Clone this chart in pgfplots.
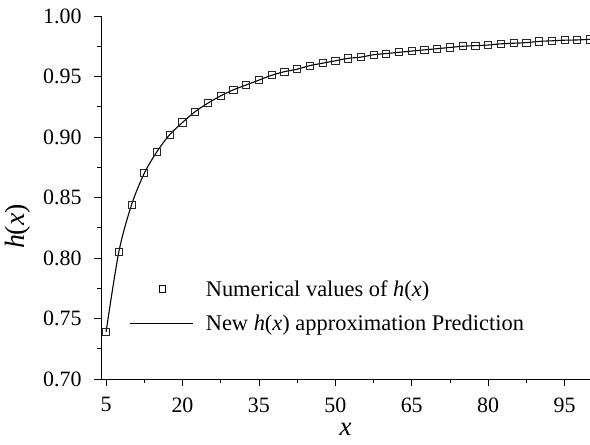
\documentclass[border=0pt]{standalone}
\usepackage{fontspec}
\setmainfont{Liberation Serif}
\usepackage{pgfplots}
\pgfplotsset{compat=1.18}
\pgfplotstableread{
x h
5 0.739
7.5 0.805
10 0.844
12.5 0.870
15 0.888
17.5 0.902
20 0.912
22.5 0.921
25 0.928
27.5 0.934
30 0.939
32.5 0.943
35 0.947
37.5 0.951
40 0.954
42.5 0.956
45 0.959
47.5 0.961
50 0.963
52.5 0.965
55 0.966
57.5 0.968
60 0.969
62.5 0.970
65 0.971
67.5 0.972
70 0.973
72.5 0.974
75 0.975
77.5 0.9755
80 0.976
82.5 0.977
85 0.9775
87.5 0.978
90 0.979
92.5 0.9795
95 0.980
97.5 0.9802
100 0.9807
}\hdata
\begin{document}
\begin{tikzpicture}
\begin{axis}[
  at={(0,0)}, anchor=south west,
  scale only axis, width=489bp, height=363bp,
  xmin=4, xmax=100, ymin=0.70, ymax=1.00,
  axis x line*=bottom, axis y line*=left,
  xtick={5,20,35,50,65,80,95},
  ytick={0.70,0.75,0.80,0.85,0.90,0.95,1.00},
  minor x tick num=1, minor y tick num=1,
  tick align=outside,
  major tick length=7bp, minor tick length=4bp,
  tick style={black, line width=0.8bp},
  axis line style={line width=0.8bp},
  /pgf/number format/assume math mode=true,
  ticklabel style={font=\fontsize{22}{26}\selectfont},
  xticklabel style={yshift=-8bp},
  yticklabel style={xshift=-9bp, /pgf/number format/fixed, /pgf/number format/fixed zerofill, /pgf/number format/precision=2},
  xlabel={\textit{x}}, ylabel={\textit{h}(\textit{x})},
  label style={font=\fontsize{28}{32}\selectfont},
  xlabel style={at={(axis description cs:0.5,-0.138)}, anchor=center, inner sep=0pt, font=\fontsize{27}{30}\selectfont},
  ylabel style={at={(axis description cs:-0.17,0.42)}, anchor=center, rotate=0},
  legend style={draw=none, fill=none, at={(axis description cs:0.059,0.278)}, anchor=north west,
    font=\fontsize{22.5}{26}\selectfont, inner sep=0pt, row sep=13bp,
    /tikz/every odd column/.append style={column sep=10bp}},
  legend cell align=left,
]
\addplot[only marks, mark=square, mark size=3.6bp, mark options={line width=0.8bp, black!85},
  legend image code/.code={\draw[black, line width=0.7bp] (28.5bp,-3.2bp) rectangle (34.9bp,3.2bp);}]
  table[x=x, y=h] {\hdata};
\addlegendentry{Numerical values of \textit{h}(\textit{x})}
\addplot[black, line width=1.1bp, smooth, no marks,
  legend image code/.code={\draw[black, line width=0.8bp] (0bp,0bp) -- (63bp,0bp);}]
  table[x=x, y=h] {\hdata};
\addlegendentry{New \textit{h}(\textit{x}) approximation Prediction}
\end{axis}
\pgfresetboundingbox
\path (-101bp,-66bp) rectangle (489bp,379bp);
\end{tikzpicture}
\end{document}
